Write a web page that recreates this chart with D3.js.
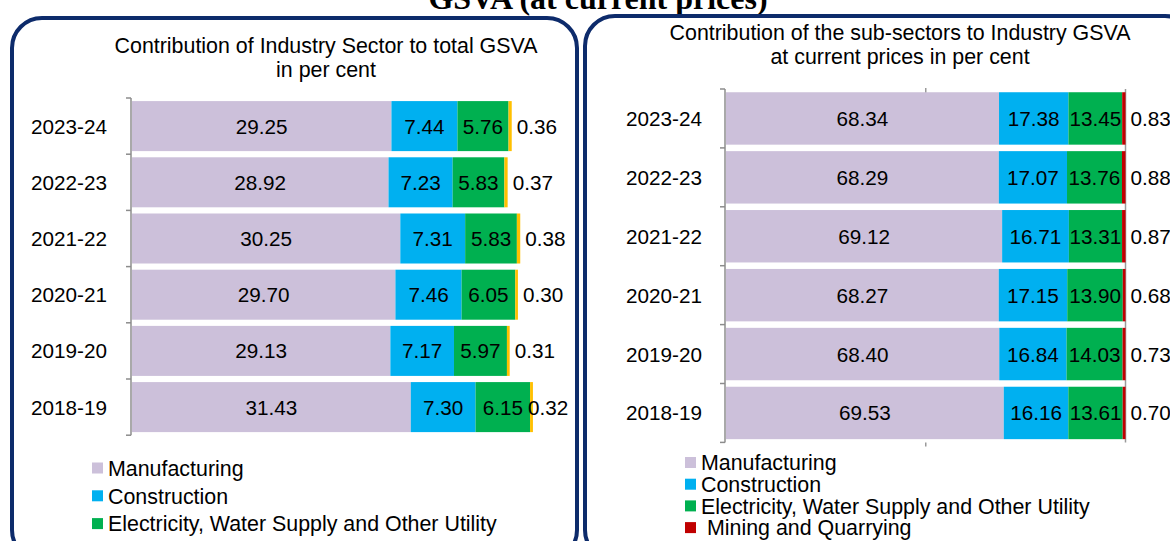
<!DOCTYPE html>
<html>
<head>
<meta charset="utf-8">
<script src="https://cdn.jsdelivr.net/npm/d3@7"></script>
<style>
  body { margin: 0; background: #ffffff; }
  svg { display: block; font-family: "Liberation Sans", Arial, sans-serif; }
</style>
</head>
<body>
<div id="chart"></div>
<script>
// data
var years = ["2023-24", "2022-23", "2021-22", "2020-21", "2019-20", "2018-19"];

// left: contribution of industry sector to total GSVA
var manufacturing = [29.25, 28.92, 30.25, 29.70, 29.13, 31.43];
var construction = [7.44, 7.23, 7.31, 7.46, 7.17, 7.30];
var electricity = [5.76, 5.83, 5.83, 6.05, 5.97, 6.15];
var mining = [0.36, 0.37, 0.38, 0.30, 0.31, 0.32];

// right: contribution of the sub-sectors to industry GSVA
var subManufacturing = [68.34, 68.29, 69.12, 68.27, 68.40, 69.53];
var subConstruction = [17.38, 17.07, 16.71, 17.15, 16.84, 16.16];
var subElectricity = [13.45, 13.76, 13.31, 13.90, 14.03, 13.61];
var subMining = [0.83, 0.88, 0.87, 0.68, 0.73, 0.70];

var seriesNames = ["Manufacturing", "Construction", "Electricity, Water Supply and Other Utility", "Mining and Quarrying"];

var svg = d3.select("#chart")
  .append("svg")
    .attr("width", 1170)
    .attr("height", 541);

// page title, cut off at the top like in the original
svg.append("text")
  .attr("x", 598)
  .attr("y", 9)
  .attr("text-anchor", "middle")
  .style("font-family", "'Liberation Serif', 'Times New Roman', serif")
  .style("font-weight", "bold")
  .style("font-size", "32px")
  .text("GSVA (at current prices)");

function drawPanel(x0, y0, x1, y1){
    svg.append("rect")
      .attr("x", x0)
      .attr("y", y0)
      .attr("width", x1 - x0)
      .attr("height", y1 - y0)
      .attr("rx", 30)
      .attr("fill", "none")
      .attr("stroke", "#0d2b6b")
      .attr("stroke-width", 4);
}

function drawChart(opt){
    var g = svg.append("g");

    // title
    g.selectAll(".title")
      .data(opt.title)
      .enter().append("text")
        .attr("x", opt.titleX)
        .attr("y", function(d, i){ return opt.titleY + i * 24; })
        .attr("text-anchor", "middle")
        .style("font-size", "21.4px")
        .text(function(d){ return d; });

    var x = d3.scaleLinear()
      .domain(opt.domain)
      .range(opt.xRange);

    var y = d3.scaleBand()
      .domain(years)
      .range(opt.yRange)
      .paddingInner(0.11)
      .paddingOuter(0.055);

    var rows = years.map(function(yr, i){
        var r = {year: yr};
        opt.keys.forEach(function(k, j){ r[k] = opt.values[j][i]; });
        return r;
    });
    var stacked = d3.stack().keys(opt.keys)(rows);

    // extra grey lines of the right chart
    if (opt.rightLine) {
        g.append("line")
          .attr("x1", x(opt.domain[1])).attr("x2", x(opt.domain[1]))
          .attr("y1", opt.yRange[0]).attr("y2", opt.yRange[1])
          .attr("stroke", "#9a9a9a")
          .attr("stroke-width", 1.5);
        [opt.yRange[0], opt.yRange[1]].forEach(function(yy, i){
            g.append("line")
              .attr("x1", x(50)).attr("x2", x(50))
              .attr("y1", i == 0 ? yy - 1 : yy).attr("y2", yy + 4)
              .attr("stroke", "#9a9a9a")
              .attr("stroke-width", 1.5);
        });
    }

    var layers = g.selectAll(".layer")
      .data(stacked)
      .enter().append("g")
        .attr("fill", function(d, i){ return opt.colors[i]; });

    layers.selectAll("rect")
      .data(function(d){ return d; })
      .enter().append("rect")
        .attr("x", function(d){ return x(d[0]); })
        .attr("y", function(d){ return y(d.data.year); })
        .attr("width", function(d){ return x(d[1]) - x(d[0]); })
        .attr("height", y.bandwidth());

    // value labels
    stacked.forEach(function(layer, li){
        g.selectAll(".lab" + li)
          .data(layer)
          .enter().append("text")
            .attr("x", function(d){
                if (li < 3) return (x(d[0]) + x(d[1])) / 2;
                return Math.min(x(d[1]) + 5, opt.labelMax);
            })
            .attr("y", function(d){ return y(d.data.year) + y.bandwidth() / 2; })
            .attr("dy", "0.36em")
            .attr("text-anchor", li < 3 ? "middle" : "start")
            .style("font-size", "20.7px")
            .text(function(d){ return (d[1] - d[0]).toFixed(2); });
    });

    // category axis
    var step = y.step();
    var ax = opt.xRange[0] - 1;
    g.append("line")
      .attr("x1", ax).attr("x2", ax)
      .attr("y1", opt.yRange[0]).attr("y2", opt.yRange[1])
      .attr("stroke", "#8c8c8c")
      .attr("stroke-width", 1.5);
    g.selectAll(".tick")
      .data(d3.range(years.length + 1))
      .enter().append("line")
        .attr("x1", ax - 5).attr("x2", ax)
        .attr("y1", function(i){ return opt.yRange[0] + i * step; })
        .attr("y2", function(i){ return opt.yRange[0] + i * step; })
        .attr("stroke", "#8c8c8c")
        .attr("stroke-width", 1.5);
    g.selectAll(".cat")
      .data(years)
      .enter().append("text")
        .attr("x", opt.catX)
        .attr("y", function(d){ return y(d) + y.bandwidth() / 2; })
        .attr("dy", "0.36em")
        .attr("text-anchor", "end")
        .style("font-size", "20.7px")
        .text(function(d){ return d; });

    // legend
    var leg = g.selectAll(".leg")
      .data(opt.legend)
      .enter().append("g")
        .attr("transform", function(d, i){ return "translate(" + opt.legX + "," + (opt.legY + i * opt.legStep) + ")"; });
    leg.append("rect")
      .attr("x", 0)
      .attr("y", -5.5)
      .attr("width", 11)
      .attr("height", 11)
      .attr("fill", function(d, i){ return opt.colors[i]; });
    leg.append("text")
      .attr("x", function(d, i){ return i == 3 ? 22 : 16; })
      .attr("dy", "0.36em")
      .style("font-size", "21.4px")
      .text(function(d){ return d; });
}

drawPanel(12, 18, 577, 560);
drawPanel(585, 16, 1195, 560);

drawChart({
    title: ["Contribution of Industry Sector to total GSVA", "in per cent"],
    titleX: 326, titleY: 53,
    keys: ["m", "c", "e", "q"],
    values: [manufacturing, construction, electricity, mining],
    colors: ["#ccc0da", "#00b0f0", "#00b050", "#ffc000"],
    domain: [0, 50],
    xRange: [132, 575.5],
    yRange: [98, 435.2],
    labelMax: 528,
    catX: 107,
    legend: seriesNames.slice(0, 3),
    legX: 92, legY: 468, legStep: 27.8,
    rightLine: false
});

drawChart({
    title: ["Contribution of the sub-sectors to Industry GSVA", "at current prices in per cent"],
    titleX: 900, titleY: 40,
    keys: ["m", "c", "e", "q"],
    values: [subManufacturing, subConstruction, subElectricity, subMining],
    colors: ["#ccc0da", "#00b0f0", "#00b050", "#c00000"],
    domain: [0, 100],
    xRange: [726, 1125.5],
    yRange: [89, 442.4],
    labelMax: 1200,
    catX: 702,
    legend: seriesNames,
    legX: 685, legY: 462.5, legStep: 21.7,
    rightLine: true
});
</script>
</body>
</html>
